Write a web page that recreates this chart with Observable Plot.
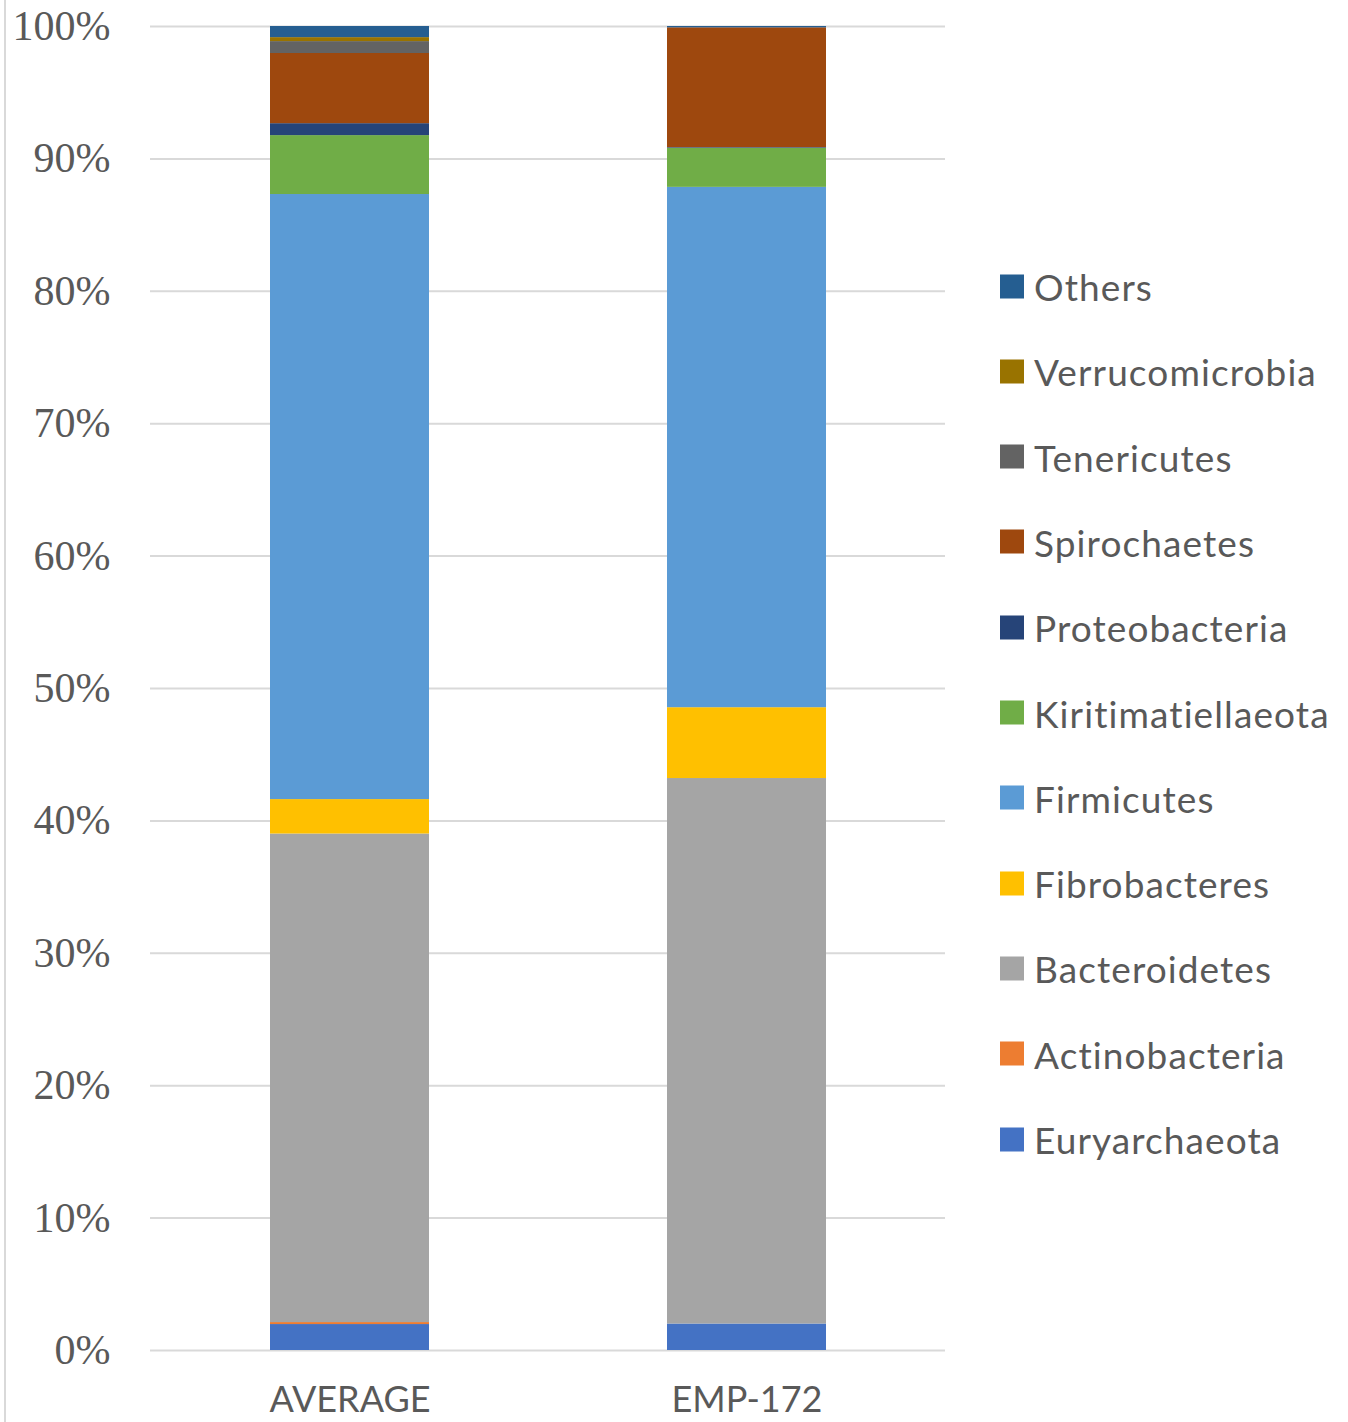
<!DOCTYPE html>
<html>
<head>
<meta charset="utf-8">
<script src="https://cdn.jsdelivr.net/npm/d3@7"></script>
<script src="https://cdn.jsdelivr.net/npm/@observablehq/plot@0.6"></script>
<style>
  html, body { margin: 0; padding: 0; background: #fff; }
  #wrap { position: relative; width: 1348px; height: 1422px; overflow: hidden; }
  #frame { position: absolute; left: 4px; top: 0; width: 2px; height: 1422px; background: #d9d9d9; }
  #legend { position: absolute; left: 1000px; top: 0; font-family: Lato, "Open Sans", sans-serif; font-size: 37px; letter-spacing: 1.1px; color: #595959; }
  .item { position: absolute; left: 0; display: flex; align-items: center; white-space: nowrap; transform: translateY(-50%); }
  .sw { width: 24px; height: 24px; margin-right: 10px; flex: none; }
</style>
</head>
<body>
<div id="wrap"><div id="frame"></div><div id="chart"></div><div id="legend"></div></div>
<script>
const samples = ["AVERAGE", "EMP-172"];
const phyla = ["Euryarchaeota", "Actinobacteria", "Bacteroidetes", "Fibrobacteres", "Firmicutes", "Kiritimatiellaeota", "Proteobacteria", "Spirochaetes", "Tenericutes", "Verrucomicrobia", "Others"];
const colors = ["#4472C4", "#ED7D31", "#A5A5A5", "#FFC000", "#5B9BD5", "#70AD47", "#264478", "#9E480E", "#636363", "#997300", "#255E91"];
const averageValues = [1.96, 0.15, 36.9, 2.6, 45.7, 4.45, 0.9, 5.3, 0.9, 0.3, 0.84];
const emp172Values = [2.0, 0.0, 41.2, 5.35, 39.3, 2.95, 0.05, 9.05, 0.0, 0.0, 0.1];
const yTicks = [0, 0.1, 0.2, 0.3, 0.4, 0.5, 0.6, 0.7, 0.8, 0.9, 1.0];

const data = [];
samples.forEach((s, si) => {
  const vals = si === 0 ? averageValues : emp172Values;
  phyla.forEach((p, i) => data.push({sample: s, phylum: p, value: vals[i] / 100}));
});

const chart = Plot.plot({
  width: 1348,
  height: 1422,
  marginTop: 26,
  marginBottom: 72,
  marginLeft: 150,
  marginRight: 403,
  style: {background: "transparent", overflow: "visible"},
  x: {domain: samples, paddingInner: 0.6, paddingOuter: 0.3, label: null},
  y: {domain: [0, 1], ticks: yTicks, label: null},
  color: {domain: phyla, range: colors},
  marks: [
    Plot.gridY(yTicks, {stroke: "#d9d9d9", strokeOpacity: 1, strokeWidth: 2}),
    Plot.barY(data, Plot.stackY({order: phyla, x: "sample", y: "value", fill: "phylum", inset: 0})),
    Plot.axisY(yTicks, {tickSize: 0, tickPadding: 40, tickFormat: d => Math.round(d * 100) + "%", fontSize: 42, fontFamily: "Liberation Serif, 'Times New Roman', serif", fill: "#595959", label: null}),
    Plot.axisX({tickSize: 0, tickPadding: 36, fontSize: 36, fontFamily: "Lato, 'Open Sans', sans-serif", fill: "#595959", label: null})
  ]
});
document.getElementById("chart").appendChild(chart);

const legend = document.getElementById("legend");
const rowY = d3.scaleLinear().domain([phyla.length - 1, 0]).range([286, 1139]);
phyla.forEach((p, i) => {
  const el = document.createElement("div");
  el.className = "item";
  el.style.top = rowY(i) + "px";
  el.innerHTML = `<span class="sw" style="background:${colors[i]}"></span><span>${p}</span>`;
  legend.appendChild(el);
});
</script>
</body>
</html>
